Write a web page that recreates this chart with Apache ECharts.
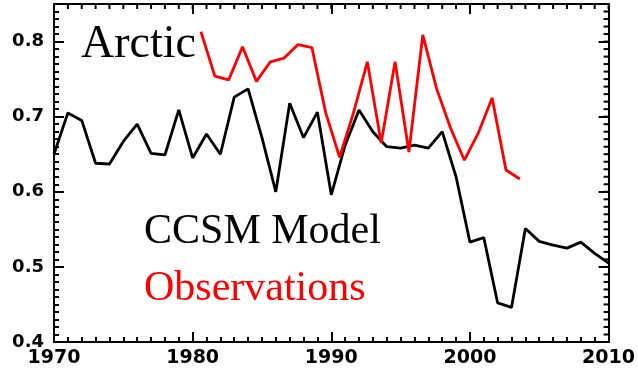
<!DOCTYPE html>
<html>
<head>
<meta charset="utf-8">
<script src="https://cdn.jsdelivr.net/npm/echarts@6/dist/echarts.min.js"></script>
<style>
  html, body { margin: 0; padding: 0; background: #fff; }
  #chart { width: 638px; height: 372px; }
</style>
</head>
<body>
<div id="chart"></div>
<script>
// CCSM model sea-ice series, one value per year
const modelYears = [1970, 1971, 1972, 1973, 1974, 1975, 1976, 1977, 1978, 1979,
  1980, 1981, 1982, 1983, 1984, 1985, 1986, 1987, 1988, 1989,
  1990, 1991, 1992, 1993, 1994, 1995, 1996, 1997, 1998, 1999,
  2000, 2001, 2002, 2003, 2004, 2005, 2006, 2007, 2008, 2009, 2010];
const modelValues = [0.650, 0.705, 0.695, 0.638, 0.637, 0.667, 0.690, 0.651, 0.649, 0.709,
  0.645, 0.677, 0.650, 0.726, 0.737, 0.672, 0.600, 0.718, 0.672, 0.706,
  0.596, 0.662, 0.709, 0.680, 0.660, 0.658, 0.662, 0.658, 0.680, 0.620,
  0.533, 0.539, 0.452, 0.446, 0.551, 0.534, 0.529, 0.525, 0.533, 0.518, 0.505];

// Observed series, plotted within each year
const obsYears = [1980.6, 1981.6, 1982.6, 1983.6, 1984.6, 1985.6, 1986.6, 1987.6,
  1988.6, 1989.6, 1990.6, 1991.6, 1992.6, 1993.6, 1994.6, 1995.6,
  1996.6, 1997.6, 1998.6, 1999.6, 2000.6, 2001.6, 2002.6, 2003.6];
const obsValues = [0.813, 0.754, 0.749, 0.793, 0.747, 0.773, 0.778, 0.796,
  0.792, 0.705, 0.646, 0.705, 0.773, 0.665, 0.773, 0.653,
  0.809, 0.737, 0.685, 0.642, 0.678, 0.725, 0.629, 0.617];

// Axis ranges and tick spacing
const xRange = [1970, 2010];
const xTickStep = 10;
const yRange = [0.4, 0.85];
const yTickStep = 0.1;
const yLastLabel = 0.8;
const minorSplit = 10;

const titleText = 'Arctic';
const modelLabel = 'CCSM Model';
const obsLabel = 'Observations';

const chart = echarts.init(document.getElementById('chart'));

// Framed axis with inward major ticks; the labelled axes also get minor ticks
function makeAxis(pos, range, step, label, withMinor) {
  const axis = {
    type: 'value', position: pos,
    min: range[0], max: range[1], interval: step,
    axisLine: { show: true, onZero: false, lineStyle: { color: '#000', width: 2 } },
    axisTick: { show: true, inside: true, length: 10, lineStyle: { color: '#000', width: 2 } },
    splitLine: { show: false },
    axisLabel: label
  };
  if (withMinor) {
    axis.minorTick = { show: true, splitNumber: minorSplit, length: 5,
      lineStyle: { color: '#000', width: 2 } };
  }
  return axis;
}

const xLabel = { show: true, color: '#000', fontFamily: 'DejaVu Sans', fontWeight: 'bold',
  fontSize: 19, margin: 7, formatter: v => String(v) };
const yLabel = { show: true, color: '#000', fontFamily: 'DejaVu Sans', fontWeight: 'bold',
  fontSize: 18, margin: 10,
  formatter: function (v) {
    const n = Number(v);
    return n > yLastLabel + 0.001 ? '' : String(Math.round(n * 10) / 10);
  } };

// Minor tick positions along the mirrored top and right frame edges
const topTicks = [];
for (let i = 0; i <= (xRange[1] - xRange[0]) / xTickStep * minorSplit; i++) {
  topTicks.push([xRange[0] + i * xTickStep / minorSplit, yRange[1]]);
}
const rightTicks = [];
for (let i = 0; i <= Math.round((yRange[1] - yRange[0]) / yTickStep * minorSplit); i++) {
  rightTicks.push([xRange[1], Math.round((yRange[0] + i * yTickStep / minorSplit) * 1000) / 1000]);
}

function edgeTick(dx, dy) {
  return function (params, api) {
    const p = api.coord([api.value(0), api.value(1)]);
    return {
      type: 'line',
      shape: { x1: p[0], y1: p[1], x2: p[0] + dx, y2: p[1] + dy },
      style: { stroke: '#000', lineWidth: 2 }
    };
  };
}

chart.setOption({
  animation: false,
  grid: { left: 54, right: 26, top: 4, bottom: 30 },
  xAxis: [
    makeAxis('bottom', xRange, xTickStep, xLabel, true),
    makeAxis('top', xRange, xTickStep, { show: false }, false)
  ],
  yAxis: [
    makeAxis('left', yRange, yTickStep, yLabel, true),
    makeAxis('right', yRange, yTickStep, { show: false }, false)
  ],
  series: [
    {
      name: modelLabel, type: 'line', xAxisIndex: 0, yAxisIndex: 0,
      showSymbol: false, symbol: 'none',
      lineStyle: { color: '#000', width: 2.8 },
      data: modelYears.map((y, i) => [y, modelValues[i]])
    },
    {
      name: obsLabel, type: 'line', xAxisIndex: 0, yAxisIndex: 0,
      showSymbol: false, symbol: 'none',
      lineStyle: { color: '#ff0000', width: 2.8 },
      data: obsYears.map((y, i) => [y, obsValues[i]])
    },
    {
      type: 'custom', xAxisIndex: 0, yAxisIndex: 0, silent: true, clip: false,
      renderItem: edgeTick(0, 5), data: topTicks
    },
    {
      type: 'custom', xAxisIndex: 0, yAxisIndex: 0, silent: true, clip: false,
      renderItem: edgeTick(-5, 0), data: rightTicks
    }
  ],
  graphic: [
    { type: 'text', left: 81, top: 22, z: 10,
      style: { text: titleText, fontFamily: 'Liberation Serif', fontSize: 46, fill: '#000' } },
    { type: 'text', left: 144, top: 211, z: 10,
      style: { text: modelLabel, fontFamily: 'Liberation Serif', fontSize: 42, fill: '#000' } },
    { type: 'text', left: 144, top: 268, z: 10,
      style: { text: obsLabel, fontFamily: 'Liberation Serif', fontSize: 42, fill: '#ff0000' } }
  ]
});
</script>
</body>
</html>
